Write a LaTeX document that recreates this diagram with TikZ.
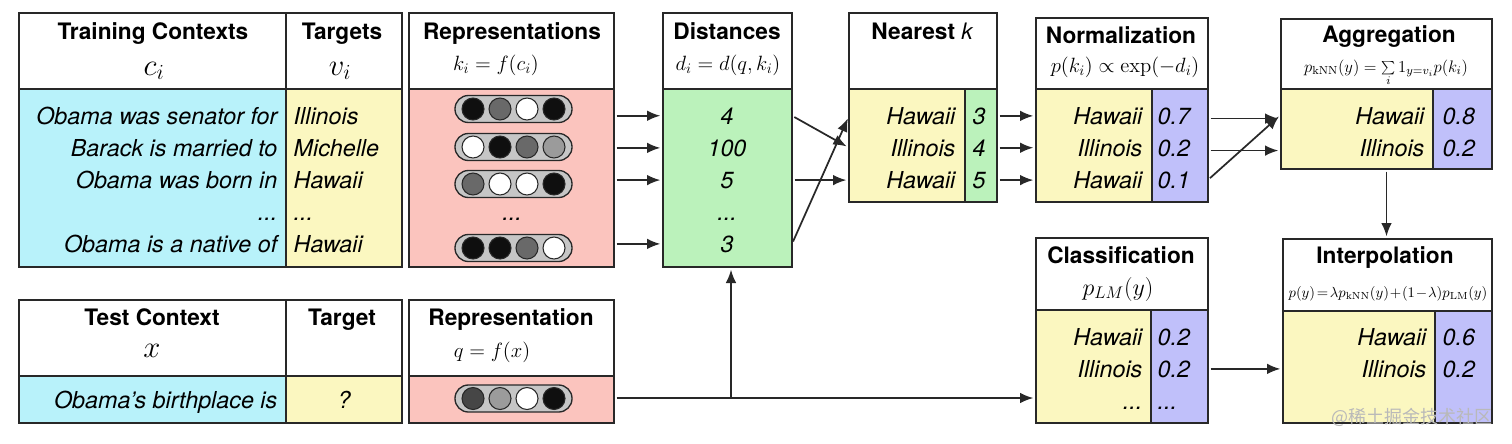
\RequirePackage{fix-cm}
\documentclass[tikz,border=0pt]{standalone}
\usepackage[no-math]{fontspec}
\setmainfont{TeX Gyre Heros}
\newfontfamily\cjkfont{Noto Sans CJK SC}
\usetikzlibrary{arrows.meta}

\definecolor{ctxcyan}{RGB}{184,242,250}
\definecolor{tgtyellow}{RGB}{251,247,192}
\definecolor{reppink}{RGB}{251,196,190}
\definecolor{distgreen}{RGB}{187,242,187}
\definecolor{probblue}{RGB}{192,192,250}
\definecolor{boxline}{RGB}{40,40,40}
\definecolor{dotdark}{RGB}{15,15,15}
\definecolor{dotmid}{RGB}{105,105,105}
\definecolor{dotlight}{RGB}{155,155,155}
\definecolor{dotdeep}{RGB}{70,70,70}

\tikzset{every picture/.style={line width=1pt}}
\tikzset{
	wh/.style 2 args={minimum width=#1*0.75pt, minimum height=#2*0.75pt},
	cell/.style={draw=boxline, anchor=north west, inner sep=0pt, outer sep=0pt},
	boxtitle/.style={font=\fontsize{17}{20}\selectfont\bfseries, inner sep=0pt, anchor=base},
	formula/.style={font=\fontsize{15.5}{18}\selectfont, inner sep=0pt, anchor=base},
	bigformula/.style={font=\fontsize{23}{26}\selectfont, inner sep=0pt, anchor=base},
	entry/.style={font=\fontsize{17.5}{20}\selectfont\itshape, inner sep=0pt},
	pillshape/.style={draw=boxline, fill=gray!45, rounded corners=10pt},
	bead/.style={draw=boxline, line width=0.8pt},
	flow/.style={draw=boxline, line width=1.3pt, -{Latex[length=10pt,width=8pt]}, shorten >=2pt, shorten <=2pt}
}

\begin{document}
\begin{tikzpicture}[x=0.75pt,y=0.75pt,yscale=-1,xscale=1]
	\useasboundingbox (0,0) rectangle (1512,443);

	%Training contexts
	\node [cell, wh={267}{76}] (ctxhead) at (19,13) {};
	\node [cell, wh={116}{76}] (tgthead) at (286,13) {};
	\node [cell, wh={267}{178}, fill=ctxcyan] (ctxbody) at (19,89) {};
	\node [cell, wh={116}{178}, fill=tgtyellow] (tgtbody) at (286,89) {};
	\node [boxtitle] (ctxtitle) at (153,39) {Training Contexts};
	\node [bigformula] (ctxmath) at (154,75) {$c_i$};
	\node [boxtitle] (tgttitle) at (342,39) {Targets};
	\node [bigformula] (tgtmath) at (340,75) {$v_i$};
	\node [entry, anchor=base east] (c1) at (278,124) {Obama was senator for};
	\node [entry, anchor=base east] (c2) at (278,156) {Barack is married to};
	\node [entry, anchor=base east] (c3) at (278,188) {Obama was born in};
	\node [entry, anchor=base east] (c4) at (278,220) {...};
	\node [entry, anchor=base east] (c5) at (278,252) {Obama is a native of};
	\node [entry, anchor=base west] (v1) at (293,124) {Illinois};
	\node [entry, anchor=base west] (v2) at (293,156) {Michelle};
	\node [entry, anchor=base west] (v3) at (293,188) {Hawaii};
	\node [entry, anchor=base west] (v4) at (293,220) {...};
	\node [entry, anchor=base west] (v5) at (293,252) {Hawaii};

	%Representations
	\node [cell, wh={205}{76}] (rephead) at (409,13) {};
	\node [cell, wh={205}{178}, fill=reppink] (repbody) at (409,89) {};
	\node [boxtitle] (reptitle) at (512,39) {Representations};
	\node [formula] (repmath) at (496,70) {$k_i = f(c_i)$};
	\foreach \y/\a/\b/\c/\d in {109/dotdark/dotmid/white/dotdark, 147/white/dotdark/dotmid/dotlight, 184/dotmid/white/white/dotdark, 248/dotdark/dotdark/dotmid/white} {
		\draw [pillshape] (455,\y-13.5) rectangle (572,\y+13.5);
		\draw [bead, fill=\a] (473,\y) circle (11);
		\draw [bead, fill=\b] (500,\y) circle (11);
		\draw [bead, fill=\c] (527,\y) circle (11);
		\draw [bead, fill=\d] (554,\y) circle (11);
	}
	\node [entry, anchor=base] (k4) at (512,220) {...};

	%Distances
	\node [cell, wh={129}{76}] (disthead) at (663,13) {};
	\node [cell, wh={129}{178}, fill=distgreen] (distbody) at (663,89) {};
	\node [boxtitle] (disttitle) at (727,39) {Distances};
	\node [formula] (distmath) at (728,70) {$d_i = d(q,k_i)$};
	\node [entry, anchor=base] (d1) at (727,124) {4};
	\node [entry, anchor=base] (d2) at (727,156) {100};
	\node [entry, anchor=base] (d3) at (727,188) {5};
	\node [entry, anchor=base] (d4) at (727,220) {...};
	\node [entry, anchor=base] (d5) at (727,252) {3};

	%Nearest k
	\node [cell, wh={148}{76}] (nearhead) at (849,13) {};
	\node [cell, wh={116}{113}, fill=tgtyellow] (nearkey) at (849,89) {};
	\node [cell, wh={32}{113}, fill=distgreen] (nearnum) at (965,89) {};
	\node [boxtitle] (neartitle) at (922,39) {Nearest \normalfont\itshape k};
	\node [entry, anchor=base east] (h1) at (956,124) {Hawaii};
	\node [entry, anchor=base east] (h2) at (956,156) {Illinois};
	\node [entry, anchor=base east] (h3) at (956,188) {Hawaii};
	\node [entry, anchor=base] (n1) at (979,124) {3};
	\node [entry, anchor=base] (n2) at (979,156) {4};
	\node [entry, anchor=base] (n3) at (979,188) {5};

	%Normalization
	\node [cell, wh={172}{71}] (normhead) at (1036,18) {};
	\node [cell, wh={116}{113}, fill=tgtyellow] (normkey) at (1036,89) {};
	\node [cell, wh={56}{113}, fill=probblue] (normnum) at (1152,89) {};
	\node [boxtitle] (normtitle) at (1121,43) {Normalization};
	\node [formula] (normmath) at (1125,72) {$p(k_i) \propto \exp(-d_i)$};
	\node [entry, anchor=base east] (m1) at (1143,124) {Hawaii};
	\node [entry, anchor=base east] (m2) at (1143,156) {Illinois};
	\node [entry, anchor=base east] (m3) at (1143,188) {Hawaii};
	\node [entry, anchor=base west] (p1) at (1157,124) {0.7};
	\node [entry, anchor=base west] (p2) at (1157,156) {0.2};
	\node [entry, anchor=base west] (p3) at (1157,188) {0.1};

	%Aggregation
	\node [cell, wh={211}{70}] (agghead) at (1281,19) {};
	\node [cell, wh={152}{80}, fill=tgtyellow] (aggkey) at (1281,89) {};
	\node [cell, wh={59}{80}, fill=probblue] (aggnum) at (1433,89) {};
	\node [boxtitle] (aggtitle) at (1389,42) {Aggregation};
	\node [formula, font=\fontsize{12.5}{14}\selectfont] (aggmath) at (1386,72) {$p_{\mathrm{kNN}}(y) = \sum\limits_i 1_{y=v_i} p(k_i)$};
	\node [entry, anchor=base east] (g1) at (1425,124) {Hawaii};
	\node [entry, anchor=base east] (g2) at (1425,156) {Illinois};
	\node [entry, anchor=base west] (a1) at (1442,124) {0.8};
	\node [entry, anchor=base west] (a2) at (1442,156) {0.2};

	%Test context
	\node [cell, wh={267}{76}] (testhead) at (19,300) {};
	\node [cell, wh={116}{76}] (qtgthead) at (286,300) {};
	\node [cell, wh={267}{47}, fill=ctxcyan] (testbody) at (19,376) {};
	\node [cell, wh={116}{47}, fill=tgtyellow] (qtgtbody) at (286,376) {};
	\node [boxtitle] (testtitle) at (152,325) {Test Context};
	\node [bigformula] (testmath) at (152,357) {$x$};
	\node [boxtitle] (qtgttitle) at (342,325) {Target};
	\node [entry, anchor=base east] (x1) at (278,408) {Obama’s birthplace is};
	\node [entry, anchor=base] (y1) at (344,408) {?};

	%Test representation
	\node [cell, wh={205}{76}] (qhead) at (409,300) {};
	\node [cell, wh={205}{47}, fill=reppink] (qbody) at (409,376) {};
	\node [boxtitle] (qtitle) at (511,325) {Representation};
	\node [formula] (qmath) at (492,357) {$q = f(x)$};
	\draw [pillshape] (455,385) rectangle (572,412);
	\draw [bead, fill=dotdeep] (473,398.5) circle (11);
	\draw [bead, fill=dotlight] (500,398.5) circle (11);
	\draw [bead, fill=white] (527,398.5) circle (11);
	\draw [bead, fill=dotdark] (554,398.5) circle (11);

	%Classification
	\node [cell, wh={172}{72}] (clshead) at (1036,238) {};
	\node [cell, wh={115}{113}, fill=tgtyellow] (clskey) at (1036,310) {};
	\node [cell, wh={57}{113}, fill=probblue] (clsnum) at (1151,310) {};
	\node [boxtitle] (clstitle) at (1121,263) {Classification};
	\node [formula, font=\fontsize{18}{20}\selectfont] (clsmath) at (1118,295) {$p_{LM}(y)$};
	\node [entry, anchor=base east] (l1) at (1143,345) {Hawaii};
	\node [entry, anchor=base east] (l2) at (1143,377) {Illinois};
	\node [entry, anchor=base east] (l3) at (1143,409) {...};
	\node [entry, anchor=base west] (cl1) at (1157,345) {0.2};
	\node [entry, anchor=base west] (cl2) at (1157,377) {0.2};
	\node [entry, anchor=base west] (cl3) at (1157,409) {...};

	%Interpolation
	\node [cell, wh={209}{72}] (inthead) at (1283,239) {};
	\node [cell, wh={152}{112}, fill=tgtyellow] (intkey) at (1283,311) {};
	\node [cell, wh={57}{112}, fill=probblue] (intnum) at (1435,311) {};
	\node [boxtitle] (inttitle) at (1385,263) {Interpolation};
	\node [formula, font=\fontsize{11}{13}\selectfont] (intmath) at (1388,297) {$p(y)\!=\!\lambda p_{\mathrm{kNN}}(y)\!+\!(1\!-\!\lambda)p_{\mathrm{LM}}(y)$};
	\node [entry, anchor=base east] (i1) at (1427,345) {Hawaii};
	\node [entry, anchor=base east] (i2) at (1427,377) {Illinois};
	\node [entry, anchor=base west] (f1) at (1442,345) {0.6};
	\node [entry, anchor=base west] (f2) at (1442,377) {0.2};

	%Connectors
	\foreach \r in {1,2,3,5}
		\draw [flow] (repbody.east |- d\r) -- (distbody.west |- d\r);
	\draw [flow] (distbody.east |- d1) -- (nearkey.west |- n2);
	\draw [flow] (distbody.east |- d3) -- (nearkey.west |- n3);
	\draw [flow] (distbody.east |- d5) -- (nearkey.west |- n1);
	\foreach \r in {1,2,3}
		\draw [flow] (nearnum.east |- n\r) -- (normkey.west |- n\r);
	\draw [flow] ([yshift=2pt]normnum.east |- p1) -- ([yshift=2pt]aggkey.west |- a1);
	\draw [flow] ([yshift=2pt]normnum.east |- p2) -- ([yshift=2pt]aggkey.west |- a2);
	\draw [flow] (normnum.east |- p3) -- ([yshift=-1pt]aggkey.west |- a1);
	\coordinate (aggout) at (agghead.south |- aggkey.south);
	\draw [flow] (aggout) -- (aggout |- inthead.north);
	\draw [flow] (clsnum.east |- cl2) -- (intkey.west |- cl2);
	\coordinate (qsplit) at (731,398);
	\draw [flow] (qbody.east |- qsplit) -- (clskey.west |- qsplit);
	\draw [flow, shorten <=0pt] (qsplit) -- (distbody.south -| qsplit);

	% Watermark
	\node [font=\cjkfont\fontsize{13.5}{15}\selectfont, text=gray!55, inner sep=0pt] (mark) at (1412,417) {@稀土掘金技术社区};

\end{tikzpicture}
\end{document}
